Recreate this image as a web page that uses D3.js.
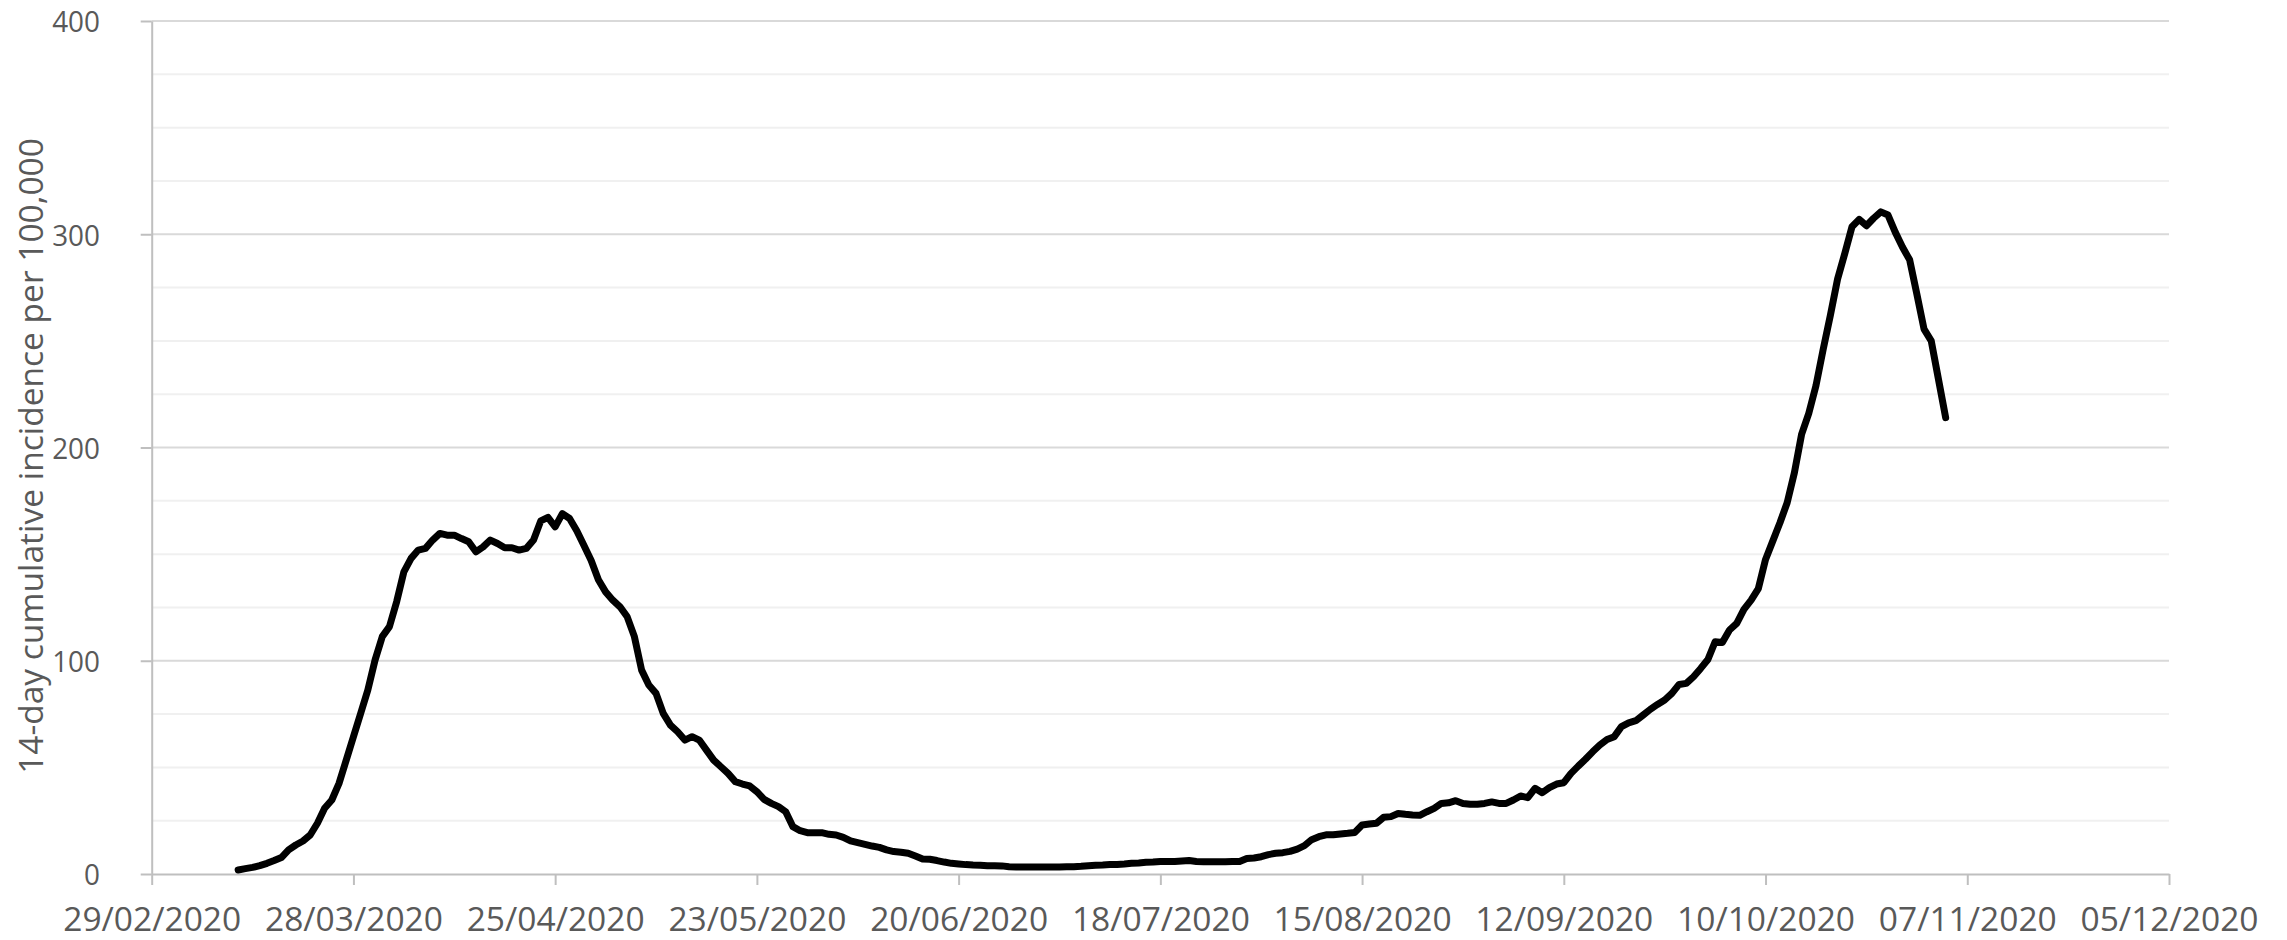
<!DOCTYPE html>
<html>
<head>
<meta charset="utf-8">
<script src="https://cdn.jsdelivr.net/npm/d3@7"></script>
<style>
  html, body { margin: 0; padding: 0; background: #fff; }
  svg { display: block; }
  text { font-family: "Open Sans", "Noto Sans", sans-serif; fill: #595959; }
</style>
</head>
<body>
<svg id="chart" width="2287" height="940"></svg>
<script>
// ---- data ----
const seriesStart = "12/03/2020";   // first daily value
const incidence = [
  1.9,2.5,3.1,3.9,5.0,6.3,7.7,11.3,13.6,15.5,
  18.3,23.8,30.8,34.7,42.5,53.4,64.4,75.3,86.3,100.3,
  111.3,116,127.7,141.7,148,151.9,152.7,156.6,159.7,158.9,
  158.9,157.3,155.8,151.1,153.4,156.6,155,153,153,151.9,
  152.7,156.6,165.6,167.2,162.8,169,166.7,161,154,147,
  138,132.3,128.4,125.3,120.6,111.3,95.6,88.6,84.7,75.3,
  69.8,66.7,62.8,64.4,62.8,58.1,53.4,50.3,47.2,43.3,
  42.2,41.3,38.6,35,33.1,31.6,29.2,22.2,20.3,19.4,
  19.4,19.4,18.6,18.3,17.2,15.5,14.7,13.9,13.1,12.5,
  11.3,10.5,10.2,9.7,8.4,7.0,6.9,6.3,5.6,5.0,
  4.7,4.4,4.2,4.1,3.9,3.9,3.8,3.4,3.3,3.3,
  3.3,3.3,3.3,3.3,3.3,3.4,3.4,3.6,3.9,4.1,
  4.2,4.4,4.5,4.7,5.0,5.2,5.5,5.6,5.9,5.9,
  5.9,6.1,6.3,5.9,5.8,5.8,5.8,5.8,5.9,5.9,
  7.3,7.5,8.1,9.1,9.7,10.0,10.6,11.7,13.3,16.1,
  17.5,18.4,18.4,18.8,19.1,19.5,23,23.4,23.8,26.6,
  26.9,28.4,28,27.7,27.5,29.2,30.8,33.1,33.4,34.4,
  33.1,32.7,32.7,33.1,33.8,33.1,33.1,34.7,36.6,35.8,
  40.2,38.1,40.5,42.2,42.8,47.2,50.6,53.8,57.3,60.5,
  63.1,64.4,69.1,70.9,71.9,74.5,77.2,79.5,81.6,84.7,
  88.9,89.4,92.5,96.4,100.6,108.9,108.6,114.4,117.5,124.1,
  128.4,133.8,147.5,156.1,164.7,174.1,188.1,206.1,216,229,
  246,262,279,291,303.5,307,304,307.5,310.5,309,
  301,294,288,272,255.5,250,232,214
];
const xTickLabels = ["29/02/2020","28/03/2020","25/04/2020","23/05/2020","20/06/2020",
  "18/07/2020","15/08/2020","12/09/2020","10/10/2020","07/11/2020","05/12/2020"];
const yTickValues = [0,100,200,300,400];
const yMinorStep = 25;
const yTitle = "14-day cumulative incidence per 100,000";

(function () {
  const parse = d3.timeParse("%d/%m/%Y");
  const fmt = d3.timeFormat("%d/%m/%Y");
  const startDate = parse(seriesStart);
  const points = incidence.map((v, i) => ({ date: d3.timeDay.offset(startDate, i), value: v }));
  const xTicks = xTickLabels.map(parse);

  const mLeft = 151.7, mRight = 2169, mTop = 21, mBottom = 874;
  const svg = d3.select("#chart");

  const x = d3.scaleTime().domain([xTicks[0], xTicks[xTicks.length - 1]]).range([mLeft, mRight]);
  const y = d3.scaleLinear().domain([0, 400]).range([mBottom, mTop]);

  // minor gridlines
  const minor = d3.range(0, 401, yMinorStep).filter(v => v % 100 !== 0);
  svg.append("g").selectAll("line").data(minor).join("line")
    .attr("x1", mLeft).attr("x2", mRight)
    .attr("y1", d => y(d)).attr("y2", d => y(d))
    .attr("stroke", "#f0f0f0").attr("stroke-width", 2);

  // major gridlines
  svg.append("g").selectAll("line").data(yTickValues.filter(v => v > 0)).join("line")
    .attr("x1", mLeft).attr("x2", mRight)
    .attr("y1", d => y(d)).attr("y2", d => y(d))
    .attr("stroke", "#d9d9d9").attr("stroke-width", 2);

  // x axis
  const gx = svg.append("g").attr("transform", `translate(0,${mBottom})`)
    .call(d3.axisBottom(x).tickValues(xTicks).tickFormat(fmt).tickSize(11).tickSizeOuter(0));
  gx.select(".domain").attr("stroke", "#bfbfbf").attr("stroke-width", 2);
  gx.selectAll(".tick line").attr("stroke", "#bfbfbf").attr("stroke-width", 2);
  gx.selectAll(".tick text")
    .attr("y", 57).attr("dy", 0)
    .style("font-size", "32px").style("font-family", "'Open Sans', sans-serif").attr("fill", "#595959")
    .each(function () {
      const w = this.getComputedTextLength();
      if (w > 0) d3.select(this).attr("transform", `scale(${178 / w},1)`);
    });

  // y axis
  const gy = svg.append("g").attr("transform", `translate(${mLeft},0)`)
    .call(d3.axisLeft(y).tickValues(yTickValues).tickSize(11).tickSizeOuter(0));
  gy.select(".domain").attr("stroke", "#bfbfbf").attr("stroke-width", 2);
  gy.selectAll(".tick line").attr("stroke", "#bfbfbf").attr("stroke-width", 2);
  gy.selectAll(".tick text")
    .attr("x", 0).attr("dy", "0.36em")
    .style("font-size", "30px").style("font-family", "'Open Sans', sans-serif").attr("fill", "#595959")
    .attr("transform", "translate(-51.7,0) scale(0.93,1)");

  // y title
  const title = svg.append("text")
    .attr("text-anchor", "middle")
    .style("font-size", "32px")
    .text(yTitle);
  const tw = title.node().getComputedTextLength();
  const sx = tw > 0 ? 636 / tw : 1;
  title.attr("transform", `translate(43,456) rotate(-90) scale(${sx},1)`);

  // line
  const line = d3.line().x(d => x(d.date)).y(d => y(d.value));
  svg.append("path").datum(points)
    .attr("d", line)
    .attr("fill", "none")
    .attr("stroke", "#000")
    .attr("stroke-width", 7)
    .attr("stroke-linejoin", "round")
    .attr("stroke-linecap", "round");
})();
</script>
</body>
</html>
